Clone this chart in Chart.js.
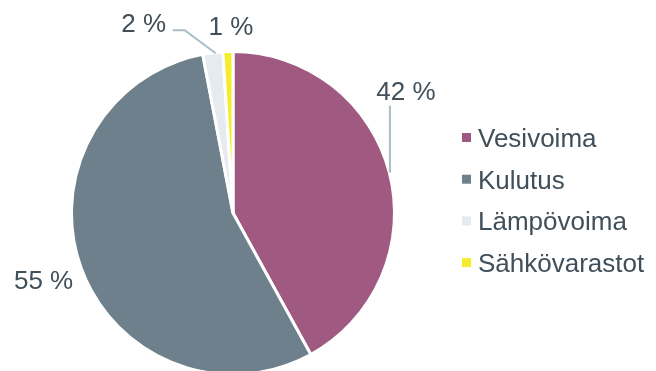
<!DOCTYPE html>
<html>
<head>
<meta charset="utf-8">
<script src="https://cdn.jsdelivr.net/npm/chart.js@4"></script>
<style>
  body { margin: 0; background: #fff; }
  #wrap { width: 656px; height: 371px; }
</style>
</head>
<body>
<div id="wrap"><canvas id="pie" width="656" height="371"></canvas></div>
<script>
const categories = ["Vesivoima", "Kulutus", "Lämpövoima", "Sähkövarastot"];
const shares = [42, 55, 2, 1];
const sliceColors = ["#a05a81", "#6e808b", "#e6ebef", "#f4ec2c"];

const TEXT = "#404f59";
const LEADER = "#a9bdc7";
const FONT = "26px 'Liberation Sans', Arial, sans-serif";

// label spot for each slice, relative to a point just outside its outer edge
const labelPlacement = [
    { dx: 16, dy: -82, leader: [[0, 0], [0, -67]] },
    { dx: -37, dy: 12, leader: null },
    { dx: -69, dy: -30, leader: [[3, 1], [-28, -22], [-40, -22]] },
    { dx: 3, dy: -25, leader: null }
];

// percentage labels around the pie
const sliceLabels = {
    id: "sliceLabels",
    afterDatasetsDraw(chart) {
        const ctx = chart.ctx;
        const meta = chart.getDatasetMeta(0);
        const total = shares.reduce((a, b) => a + b, 0);

        ctx.save();
        ctx.font = FONT;
        ctx.textAlign = "center";
        ctx.textBaseline = "alphabetic";

        meta.data.forEach((arc, i) => {
            const mid = (arc.startAngle + arc.endAngle) / 2;
            const px = arc.x + (arc.outerRadius + 0.5) * Math.cos(mid);
            const py = arc.y + (arc.outerRadius + 0.5) * Math.sin(mid);
            const p = labelPlacement[i];

            if (p.leader) {
                ctx.strokeStyle = LEADER;
                ctx.lineWidth = 2;
                ctx.beginPath();
                p.leader.forEach(([lx, ly], k) => {
                    if (k === 0) ctx.moveTo(px + lx, py + ly);
                    else ctx.lineTo(px + lx, py + ly);
                });
                ctx.stroke();
            }

            const pct = Math.round(shares[i] / total * 100);
            ctx.fillStyle = TEXT;
            // baseline sits ~9px under the digit middle
            ctx.fillText(pct + " %", px + p.dx, py + p.dy + 9.3);
        });
        ctx.restore();
    }
};

// legend on the right, square markers
const sideLegend = {
    id: "sideLegend",
    afterDraw(chart) {
        const ctx = chart.ctx;
        const ds = chart.data.datasets[0];
        const x0 = 462;
        const y0 = 137.5;
        const step = 41.7;

        ctx.save();
        ctx.font = FONT;
        ctx.textAlign = "left";
        ctx.textBaseline = "alphabetic";
        chart.data.labels.forEach((name, i) => {
            const cy = y0 + i * step;
            ctx.fillStyle = ds.backgroundColor[i];
            ctx.fillRect(x0, cy - 4.5, 9, 9);
            ctx.fillStyle = TEXT;
            ctx.fillText(name, x0 + 16, cy + 9.3);
        });
        ctx.restore();
    }
};

new Chart(document.getElementById("pie"), {
    type: "pie",
    data: {
        labels: categories,
        datasets: [{
            data: shares,
            backgroundColor: sliceColors,
            borderColor: "#ffffff",
            borderWidth: 3,
            hoverOffset: 0
        }]
    },
    options: {
        responsive: false,
        animation: false,
        events: [],
        radius: 161.5,
        layout: {
            padding: { left: 73, right: 263, top: 55, bottom: 0 }
        },
        plugins: {
            legend: { display: false },
            tooltip: { enabled: false }
        }
    },
    plugins: [sliceLabels, sideLegend]
});
</script>
</body>
</html>
